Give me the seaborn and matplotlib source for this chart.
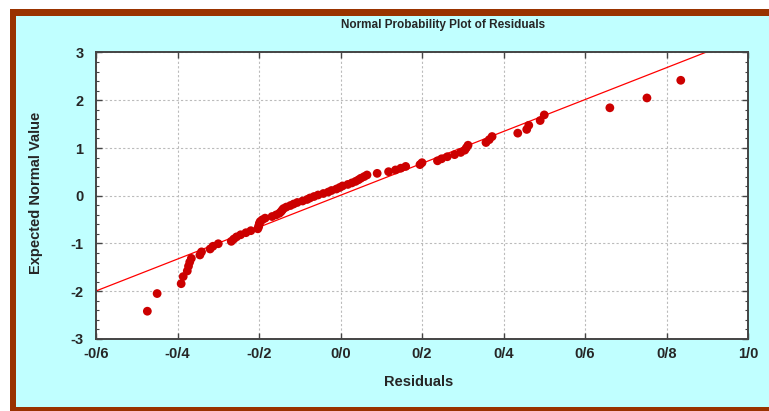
import matplotlib
matplotlib.use("Agg")
import matplotlib.pyplot as plt
import matplotlib.patches as mpatches
from matplotlib.ticker import FixedLocator, MultipleLocator
import numpy as np
import pandas as pd
import seaborn as sns

# ---- data ----
residuals = [
    -0.474, -0.450, -0.391, -0.386, -0.376, -0.373, -0.370, -0.366, -0.345, -0.341,
    -0.320, -0.313, -0.300, -0.268, -0.262, -0.255, -0.245, -0.232, -0.220, -0.203,
    -0.201, -0.200, -0.199, -0.197, -0.192, -0.185, -0.168, -0.158, -0.150, -0.146,
    -0.143, -0.140, -0.133, -0.123, -0.115, -0.106, -0.093, -0.082, -0.075, -0.065,
    -0.055, -0.042, -0.030, -0.022, -0.010, -0.002, 0.005, 0.018, 0.028, 0.037,
    0.044, 0.050, 0.058, 0.065, 0.090, 0.118, 0.135, 0.148, 0.160, 0.195,
    0.200, 0.238, 0.248, 0.262, 0.280, 0.295, 0.305, 0.309, 0.313, 0.357,
    0.365, 0.372, 0.435, 0.457, 0.462, 0.490, 0.500, 0.661, 0.752, 0.835,
]
expected_normal = [
    -2.418, -2.048, -1.842, -1.693, -1.575, -1.475, -1.389, -1.311, -1.240, -1.175,
    -1.115, -1.058, -1.005, -0.955, -0.907, -0.861, -0.817, -0.774, -0.732, -0.692,
    -0.652, -0.614, -0.577, -0.540, -0.504, -0.469, -0.435, -0.401, -0.367, -0.334,
    -0.301, -0.269, -0.237, -0.205, -0.173, -0.141, -0.110, -0.078, -0.047, -0.016,
    0.016, 0.047, 0.078, 0.110, 0.141, 0.173, 0.205, 0.237, 0.269, 0.301,
    0.334, 0.367, 0.401, 0.435, 0.469, 0.504, 0.540, 0.577, 0.614, 0.652,
    0.692, 0.732, 0.774, 0.817, 0.861, 0.907, 0.955, 1.005, 1.058, 1.115,
    1.175, 1.240, 1.311, 1.389, 1.475, 1.575, 1.693, 1.842, 2.048, 2.418,
]
fit_intercept = 0.01
fit_slope = 3.34

x_ticks = [-0.6, -0.4, -0.2, 0.0, 0.2, 0.4, 0.6, 0.8, 1.0]
x_tick_labels = ["-0/6", "-0/4", "-0/2", "0/0", "0/2", "0/4", "0/6", "0/8", "1/0"]
y_ticks = [-3, -2, -1, 0, 1, 2, 3]
y_tick_labels = ["-3", "-2", "-1", "0", "1", "2", "3"]

title = "Normal Probability Plot of Residuals"
x_label = "Residuals"
y_label = "Expected Normal Value"

df = pd.DataFrame({"Residuals": residuals, "Expected": expected_normal})

# ---- style ----
sns.set_style("ticks")
plt.rcParams["font.family"] = ["Liberation Sans Narrow", "Liberation Sans", "DejaVu Sans"]

W, H = 769, 411
fig = plt.figure(figsize=(W / 100, H / 100), dpi=100)
fig.patch.set_facecolor("white")

# brown frame and cyan panel
fig.patches.append(mpatches.Rectangle((10 / W, 0), 1.0, (H - 9) / H,
                                      transform=fig.transFigure, facecolor="#993300",
                                      edgecolor="none", zorder=-20))
fig.patches.append(mpatches.Rectangle((16 / W, 4 / H), 1.0, (407 - 16) / H,
                                      transform=fig.transFigure, facecolor="#C0FFFF",
                                      edgecolor="none", zorder=-19))

ax = fig.add_axes([96 / W, 1 - 339 / H, (748 - 96) / W, (339 - 52.5) / H])
ax.set_facecolor("white")

sns.scatterplot(data=df, x="Residuals", y="Expected", ax=ax, color="#CC0000",
                s=40, edgecolor="none", linewidth=0, zorder=3, legend=False)
ax.axline((0, fit_intercept), slope=fit_slope, color="#FF0000", lw=0.9, zorder=2)

ax.set_xlim(-0.6, 1.0)
ax.set_ylim(-3, 3)
ax.xaxis.set_major_locator(FixedLocator(x_ticks))
ax.set_xticklabels(x_tick_labels)
ax.yaxis.set_major_locator(FixedLocator(y_ticks))
ax.set_yticklabels(y_tick_labels)
ax.yaxis.set_minor_locator(MultipleLocator(0.2))

ax.grid(True, which="major", color="#BBBBBB", linestyle=(0, (2, 2)), linewidth=0.8)
ax.set_axisbelow(True)

ax.tick_params(axis="both", which="both", direction="in", top=True, right=True,
               color="#444444")
ax.tick_params(axis="both", which="major", length=4, width=1)
ax.tick_params(axis="y", which="minor", length=2.5, width=0.8)
ax.tick_params(axis="x", which="major", labelsize=10.5, pad=6)
ax.tick_params(axis="y", which="major", labelsize=10.5, pad=9)
for lab in ax.get_xticklabels() + ax.get_yticklabels():
    lab.set_fontweight("bold")

for sp in ax.spines.values():
    sp.set_color("#444444")
    sp.set_linewidth(1.4)

ax.set_xlabel("")
ax.set_ylabel("")
fig.text(443 / W, 1 - 25 / H, title, ha="center", va="center",
         fontsize=8.5, fontweight="bold")
fig.text(419 / W, 1 - 382 / H, x_label, ha="center", va="center",
         fontsize=10.5, fontweight="bold")
fig.text(36 / W, 1 - 193 / H, y_label, ha="center", va="center", rotation=90,
         fontsize=10.5, fontweight="bold")

fig.savefig("out.png", dpi=100, facecolor=fig.get_facecolor())
